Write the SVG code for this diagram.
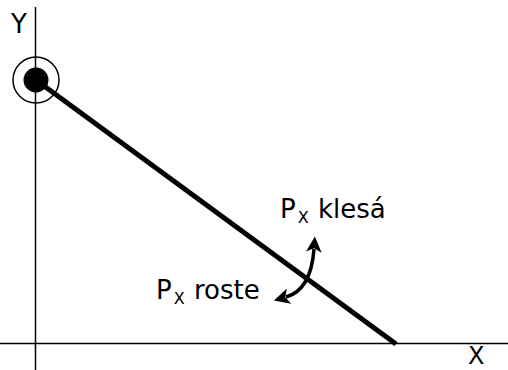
<svg xmlns="http://www.w3.org/2000/svg" width="508" height="370" viewBox="0 0 508 370">
<defs>
<style>
.axis{stroke:#000;stroke-width:1.5;fill:none}
.lbl{font-family:"DejaVu Sans",Verdana,sans-serif;font-size:26px;fill:#000}
.sub{font-size:16px}
</style>
<marker id="ah" viewBox="0 0 10 10" refX="2" refY="5" markerWidth="4.5" markerHeight="4.5" orient="auto-start-reverse" markerUnits="strokeWidth">
<path d="M0,0 L10,5 L0,10 L2.5,5 Z" fill="#000"/>
</marker>
</defs>
<rect width="508" height="370" fill="#fff"/>
<g id="axes">
<line class="axis" x1="35.5" y1="7" x2="35.5" y2="370"/>
<line class="axis" x1="0" y1="343.5" x2="508" y2="343.5"/>
</g>
<g id="point">
<circle cx="36" cy="80" r="23" fill="none" stroke="#000" stroke-width="1.5"/>
<circle cx="36" cy="80" r="12.5" fill="#000"/>
</g>
<g id="connectors">
<line x1="36" y1="80" x2="396" y2="344" stroke="#000" stroke-width="5"/>
<path d="M286,297 Q311,290 314,249" fill="none" stroke="#000" stroke-width="3.5" marker-start="url(#ah)" marker-end="url(#ah)"/>
</g>
<g id="labels">
<text class="lbl" x="11" y="33">Y</text>
<text class="lbl" x="468" y="364" style="font-size:24px">X</text>
<text class="lbl" x="280" y="218">P<tspan class="sub" dx="2" dy="5">X</tspan><tspan dx="1" dy="-5"> klesá</tspan></text>
<text class="lbl" x="156" y="299">P<tspan class="sub" dx="2" dy="5">X</tspan><tspan dx="1" dy="-5"> roste</tspan></text>
</g>
</svg>
